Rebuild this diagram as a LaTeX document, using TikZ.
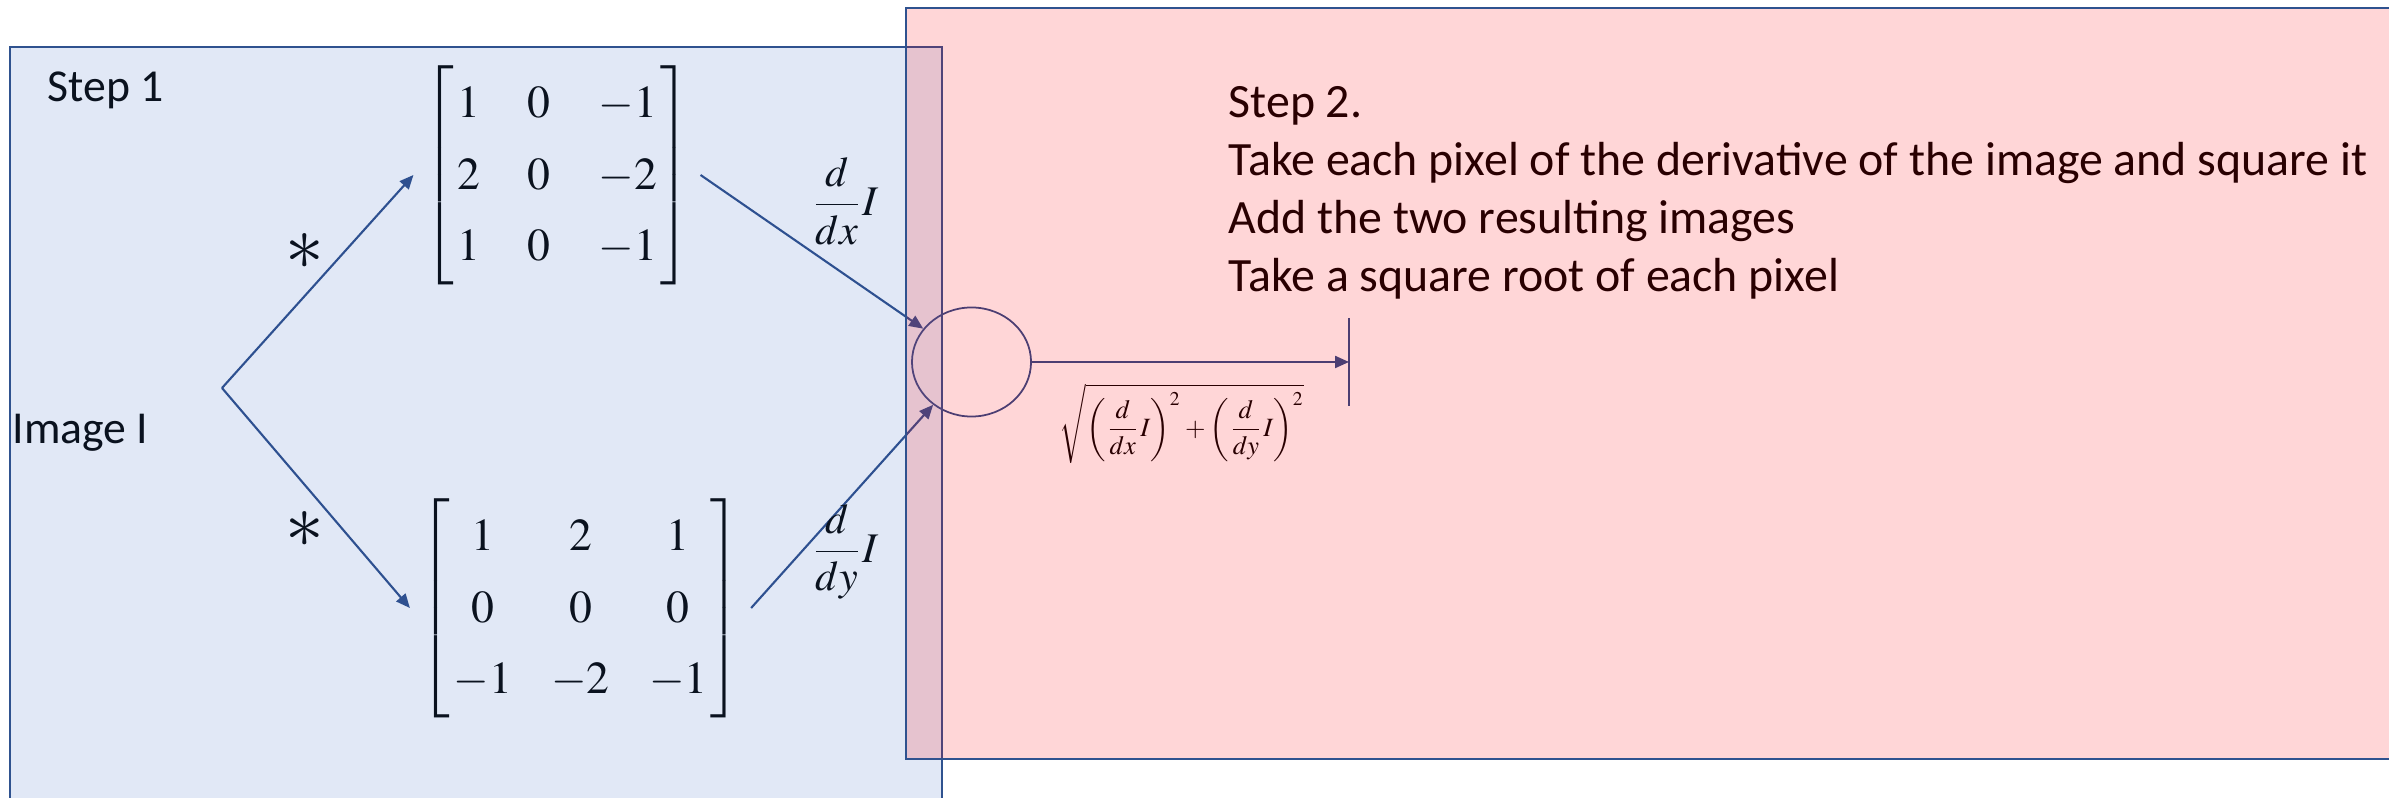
\documentclass[tikz,border=0pt]{standalone}
\usepackage{amsmath}
\usepackage{mathptmx}
\usepackage[no-math]{fontspec}
\setmainfont{Carlito}
\usetikzlibrary{arrows.meta,positioning,shapes.geometric}
\definecolor{panelline}{RGB}{47,82,143}
\definecolor{panelblue}{RGB}{68,114,196}
\definecolor{panelpink}{RGB}{255,0,8}
\definecolor{flowline}{RGB}{42,74,135}
\renewcommand{\arraystretch}{1.3}

\begin{document}
\begin{tikzpicture}[
  x=0.01cm, y=-0.01cm,
  panel/.style={draw=panelline, line width=0.8pt, fill opacity=0.16},
  caption/.style={inner sep=0pt, font=\fontsize{13}{16.5}\selectfont, align=left},
  kernel/.style={inner sep=0.09cm, font=\fontsize{13}{15.6}\selectfont},
  deriv/.style={inner sep=0pt, font=\fontsize{12}{14}\selectfont},
  conv/.style={inner sep=0pt, font=\fontsize{22}{24}\selectfont},
  arr/.style={-{Triangle[length=0.14cm, width=0.12cm]}, draw=flowline, line width=0.6pt},
  sumnode/.style={ellipse, draw=flowline, line width=0.5pt, minimum width=1.19cm,
                  minimum height=1.09cm, inner sep=0pt}
]
  \useasboundingbox (0,0) rectangle (2389,798);
  \clip (0,0) rectangle (2389,798);

  % Step 1: convolve the image with both kernels
  \node[caption, anchor=base west] (step1) at (47,102) {Step 1};
  \node[caption, anchor=west] (img) at (12,433) {Image I};
  \coordinate (fork) at (222,388);
  \node[kernel] (gx) at (557,175)
    {\arraycolsep=6.8pt$\left[\begin{array}{@{\hspace{1pt}}ccc@{\hspace{1pt}}}
      1&0&-1\\2&0&-2\\1&0&-1\end{array}\right]$};
  \node[kernel] (gy) at (580.5,608)
    {\arraycolsep=5.6pt$\left[\begin{array}{@{\hspace{1pt}}ccc@{\hspace{1pt}}}
      1&2&1\\0&0&0\\-1&-2&-1\end{array}\right]$};
  \node[conv] (cx) at (305,252) {$\ast$};
  \node[conv] (cy) at (305,530) {$\ast$};

  \draw[arr] (fork) -- (gx.west);
  \draw[arr] (fork) -- (gy.west);

  % Step 2: square, add, take the root
  \node[sumnode] (sum) at (971.5,362) {};
  \coordinate (out) at (1349,362);
  \draw[arr] (gx.east) -- (sum);
  \draw[arr] (gy.east) -- (sum);
  \draw[arr] (sum.east) -- (out);
  \draw[draw=flowline, line width=0.5pt] (out) ++(0,-44) -- ++(0,88);

  \node[deriv] (ddx) at (845,201) {$\dfrac{d}{dx}I$};
  \node[deriv] (ddy) at (845,552) {$\dfrac{d}{dy}I$};
  \node[inner sep=0pt, font=\fontsize{7.5}{9}\selectfont] (mag) at (1182,424)
    {$\displaystyle\sqrt{\left(\frac{d}{dx}I\right)^2+\left(\frac{d}{dy}I\right)^2}$};

  \node[caption, font=\fontsize{13.6}{16.5}\selectfont, anchor=north west] (step2) at (1228,86)
    {Step 2.\\
     Take each pixel of the derivative of the image and square it\\
     Add the two resulting images\\
     Take a square root of each pixel};

  % panels
  \draw[panel, fill=panelblue] (10,47) rectangle (942,820);
  \draw[panel, fill=panelpink] (906,8) rectangle (2420,759);
\end{tikzpicture}
\end{document}
